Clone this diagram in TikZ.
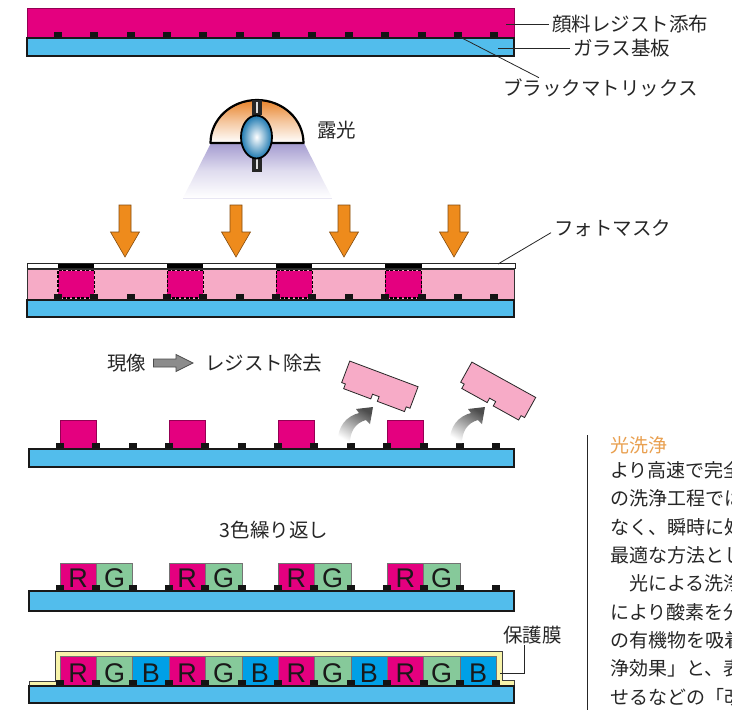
\documentclass[tikz,border=0pt]{standalone}
\usepackage{fontspec}
\setmainfont{Noto Sans CJK JP}
\newfontfamily\latinsans{Liberation Sans}
\usetikzlibrary{calc}

\definecolor{resist}{HTML}{E4007F}
\definecolor{resistpale}{HTML}{F6ABC6}
\definecolor{glassblue}{HTML}{52BDEC}
\definecolor{bmblack}{HTML}{141414}
\definecolor{cfgreen}{HTML}{86C99A}
\definecolor{cfblue}{HTML}{00A0E6}
\definecolor{coat}{HTML}{F8F4AA}
\definecolor{uvorange}{HTML}{EE8B1C}
\definecolor{domeorange}{HTML}{E8832A}
\definecolor{conepurple}{HTML}{A49BD0}
\definecolor{bulbblue}{HTML}{1C78B0}
\definecolor{headorange}{HTML}{E9A050}
\definecolor{piecepink}{HTML}{F7ABC7}

\tikzset{
  glass/.style={fill=glassblue, draw=black!90, line width=1.6pt},
  layer/.style={fill=resist, draw=resist!65!black, line width=0.8pt},
  palelayer/.style={fill=resistpale, draw=black!80, line width=0.8pt},
  bm/.style={fill=bmblack},
  lbl/.style={font=\fontsize{19.5}{22}\selectfont, inner sep=0pt, anchor=west, text=black!85},
  bodytext/.style={font=\fontsize{19}{22}\selectfont, inner sep=0pt, anchor=west, text=black!85},
  leader/.style={draw=black!85, line width=0.8pt},
  uvarrow/.style={fill=uvorange, draw=uvorange!55!black, line width=0.6pt},
  cell/.style={draw=black!55, line width=0.5pt},
  cellletter/.style={font=\latinsans\fontsize{27}{27}\selectfont, anchor=base, inner sep=0pt, text=black!90},
  piece/.style={fill=piecepink, draw=black!85, line width=0.8pt},
  liftarrow/.style={top color=black!70, bottom color=white, shading angle=-30},
}

% black matrix row: x of first square centre, top y, bottom y
\newcommand\bmrow[3]{%
  \foreach \k in {0,...,12}{%
    \fill[bm] ({#1+36.35*\k-4},#2) rectangle ({#1+36.35*\k+4},#3);}}

% resist piece lifted off the substrate (local frame, origin at centre)
\newcommand\resistpiece{%
  \draw[piece] (-36.5,-14) -- (36.5,-14) -- (36.5,9) -- (32.5,9) -- (32.5,14)
    -- (3.5,14) -- (3.5,9) -- (-3.5,9) -- (-3.5,14) -- (-32.5,14) -- (-32.5,9)
    -- (-36.5,9) -- cycle;}

% curved lift arrow, start at the given offset
\newcommand\liftarrow[1]{%
  \shade[liftarrow, xshift=#1]
    (338,443) .. controls (337,426) and (347,416) .. (359,413) -- (356,409)
    -- (373,407) -- (370,424) -- (366,420) .. controls (355,423) and (350,432)
    .. (350,443) -- cycle;}

\begin{document}
\begin{tikzpicture}[x=1pt, y=-1pt]
\useasboundingbox (0,0) rectangle (732,710);
\fill[white] (0,0) rectangle (732,710);

% ===== resist coating on glass with black matrix =====
\fill[layer] (27,8) rectangle (514,38);
\draw[resist!65!black, line width=0.8pt] (27,8) rectangle (514,38);
\bmrow{58}{32}{38}
\draw[glass] (27,38) rectangle (514,56);

\node[lbl] (tresist) at (552,24) {顔料レジスト添布};
\node[lbl] (tglass) at (573,48) {ガラス基板};
\node[lbl] (tbm) at (503,88) {ブラックマトリックス};
\coordinate (presist) at (506,24);
\coordinate (pglass) at (498,48);
\coordinate (pbm) at (460,37);
\coordinate (ebm) at ($(tbm.north west)+(36,-1)$);
\draw[leader] (presist) -- ([xshift=-3pt]tresist.west);
\draw[leader] (pglass) -- ([xshift=-3pt]tglass.west);
\draw[leader] (pbm) -- (ebm);

% ===== exposure lamp =====
\shade[top color=conepurple, bottom color=white, middle color=conepurple!35]
  (211,143) -- (304,143) -- (332,198) -- (183,198) -- cycle;
\draw[conepurple!25, line width=0.6pt] (183,198) -- (332,198);
\shade[top color=domeorange, bottom color=white, middle color=domeorange!45]
  (210.5,143) arc[start angle=180, end angle=360, x radius=46.5, y radius=43] -- cycle;
\draw[line width=2.2pt, line join=round]
  (210.5,143) arc[start angle=180, end angle=360, x radius=46.5, y radius=43] -- cycle;
\fill[black!85] (251.5,100) rectangle (262,115);
\draw[white!75!gray, line width=1.5pt] (256.8,102) -- (256.8,113);
\fill[black!85] (251.5,155) rectangle (262,172);
\draw[white!75!gray, line width=1.5pt] (256.8,158) -- (256.8,169);
\shade[inner color=white, outer color=bulbblue] (256.5,137) ellipse [x radius=15.5, y radius=21.5];
\draw[line width=1.8pt] (256.5,137) ellipse [x radius=15.5, y radius=21.5];
\node[lbl] (texpose) at (317,130) {露光};

% ===== UV arrows =====
\foreach \c [count=\i] in {125,236,344,454}{
  \draw[uvarrow] (\c-6,205) -- (\c+6,205) -- (\c+6,232) -- (\c+14.5,232)
    -- (\c,257) -- (\c-14.5,232) -- (\c-6,232) -- cycle;}

% ===== photomask over exposed resist =====
\draw[fill=white, draw=black!85, line width=0.7pt] (27,263.5) rectangle (515,268);
\foreach \k in {0,3,6,9}{
  \fill[black] ({58+36.35*\k},263.5) rectangle ({58+36.35*(\k+1)},267.5);}
\draw[palelayer] (27,269) rectangle (514,300);
\foreach \k in {0,3,6,9}{
  \draw[fill=resist, draw=black, line width=1.1pt, dash pattern=on 3pt off 1.6pt]
    ({58+36.35*\k},270.5) rectangle ({58+36.35*(\k+1)},298);}
\bmrow{58}{294}{300}
\draw[glass] (27,300) rectangle (514,317);

\node[lbl] (tmask) at (554,228) {フォトマスク};
\coordinate (pmask) at (498,264);
\coordinate (emask) at ($(tmask.south west)+(-3,-4)$);
\draw[leader] (pmask) -- (emask);

% ===== development =====
\node[lbl] (tdev) at (107,363) {現像};
\node[lbl] (tstrip) at (205,363) {レジスト除去};
\draw[fill=black!45, draw=black!70, line width=0.7pt]
  ([xshift=7pt]tdev.east |- 0,359) -- (176,359) -- (176,354.5) -- (193,363)
  -- (176,371.5) -- (176,367) -- ([xshift=7pt]tdev.east |- 0,367) -- cycle;

\foreach \k in {0,3,6,9}{
  \draw[layer] ({60+36.35*\k},420) rectangle ({60+36.35*(\k+1)},449);}
\bmrow{60}{443}{449}
\draw[glass] (29,449) rectangle (514,467);

\liftarrow{0pt}
\liftarrow{112pt}
\begin{scope}[shift={(379,387)}, rotate=-20.6]
  \resistpiece
\end{scope}
\begin{scope}[shift={(497,392)}, rotate=-29]
  \resistpiece
\end{scope}

% ===== repeat for three colours =====
\node[lbl, anchor=center] (trepeat) at (274,530) {3色繰り返し};
\foreach \k in {0,3,6,9}{
  \fill[resist] ({60+36.35*\k},563) rectangle ({60+36.35*(\k+1)},591);
  \draw[cell] ({60+36.35*\k},563) rectangle ({60+36.35*(\k+1)},591);
  \fill[cfgreen] ({60+36.35*(\k+1)},563) rectangle ({60+36.35*(\k+2)},591);
  \draw[cell] ({60+36.35*(\k+1)},563) rectangle ({60+36.35*(\k+2)},591);
  \node[cellletter] (r\k) at ({60+36.35*(\k+0.5)},587.5) {R};
  \node[cellletter] (g\k) at ({60+36.35*(\k+1.5)},587.5) {G};}
\bmrow{60}{585}{591}
\draw[glass] (29,591) rectangle (514,611);

% ===== protective overcoat =====
\draw[fill=coat, draw=black!75, line width=0.8pt]
  (29,686) -- (29,681) -- (55,681) -- (55,651) -- (502,651) -- (502,680)
  -- (514,680) -- (514,686);
\foreach \i/\col/\ch in {0/resist/R,1/cfgreen/G,2/cfblue/B,3/resist/R,4/cfgreen/G,5/cfblue/B,
                         6/resist/R,7/cfgreen/G,8/cfblue/B,9/resist/R,10/cfgreen/G,11/cfblue/B}{
  \fill[\col] ({60+36.35*\i},656) rectangle ({60+36.35*(\i+1)},686);
  \draw[cell] ({60+36.35*\i},656) rectangle ({60+36.35*(\i+1)},686);
  \node[cellletter] (c\i) at ({60+36.35*(\i+0.5)},682.5) {\ch};}
\bmrow{60}{680}{686}
\draw[glass] (29,686) rectangle (514,703);

\node[lbl] (tcoat) at (503,635) {保護膜};
\coordinate (pcoat) at (500,673);
\coordinate (ecoat) at ($(tcoat.south west)+(21,1)$);
\draw[leader] (pcoat) -- (ecoat |- pcoat) -- (ecoat);

% ===== neighbouring text column =====
\draw[black!85, line width=0.8pt] (587,435) -- (587,712);
\node[bodytext, text=headorange] (h1) at (610,445) {光洗浄};
\node[bodytext] (l1) at (610,470) {より高速で完全};
\node[bodytext] (l2) at (610,498) {の洗浄工程では};
\node[bodytext] (l3) at (610,527) {なく、瞬時に処};
\node[bodytext] (l4) at (610,555) {最適な方法とし};
\node[bodytext] (l5) at (629,583) {光による洗浄};
\node[bodytext] (l6) at (610,612) {により酸素を分};
\node[bodytext] (l7) at (610,640) {の有機物を吸着};
\node[bodytext] (l8) at (610,668) {浄効果」と、表};
\node[bodytext] (l9) at (610,697) {せるなどの「改};
\end{tikzpicture}
\end{document}
